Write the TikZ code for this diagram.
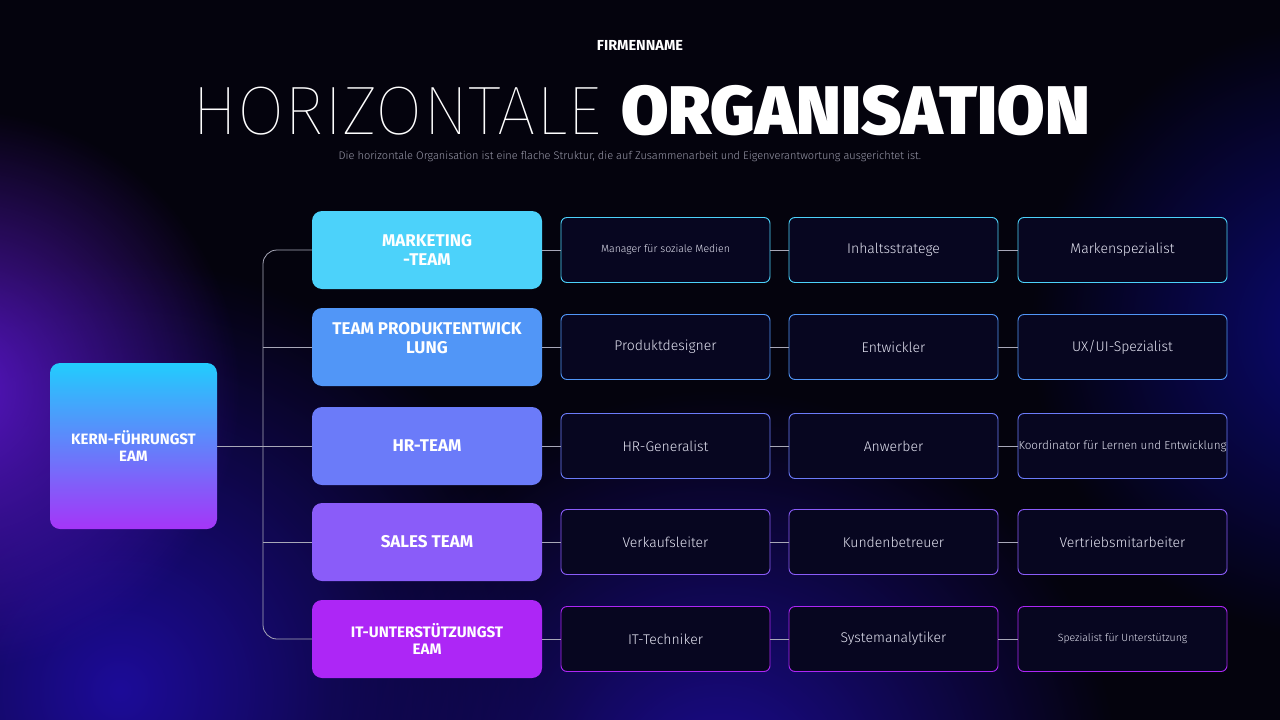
\documentclass[tikz,border=0pt]{standalone}
\usepackage{fontspec}
\setmainfont{Fira Sans}
\newfontfamily\lightf{Fira Sans Light}
\newfontfamily\thinf{Fira Sans Thin}
\newfontfamily\boldf{Fira Sans SemiBold}
\newfontfamily\bbf{Fira Sans Bold}
\newfontfamily\heavyf{Fira Sans Black}
\usetikzlibrary{fadings}
\tikzfading[name=glow, inner color=transparent!0, outer color=transparent!100]
\definecolor{bg}{HTML}{04030D}
\definecolor{gpurple}{HTML}{5A16C8}
\definecolor{gblue}{HTML}{1E0CA0}
\definecolor{gblue2}{HTML}{0C0A86}
\definecolor{tc1}{HTML}{4CD2FA}
\definecolor{tc2}{HTML}{5196F7}
\definecolor{tc3}{HTML}{6B7BF9}
\definecolor{tc4}{HTML}{8A5CF9}
\definecolor{tc5}{HTML}{AD26F6}
\definecolor{kt}{HTML}{22CCFD}
\definecolor{km}{HTML}{6A7DF8}
\definecolor{kb}{HTML}{A535F8}
\definecolor{rolefill}{HTML}{070620}
\definecolor{rolefg}{HTML}{E4E4F2}
\definecolor{conncol}{HTML}{A8A8B8}
\definecolor{subcol}{HTML}{9A9AAA}
\tikzset{
  teambox/.style={rounded corners=10pt, minimum width=230pt, minimum height=78pt,
    inner sep=0pt, align=center, text=white,
    font=\bbf\fontsize{17}{18.5}\selectfont},
  rolebox/.style={rounded corners=6pt, minimum width=209pt, minimum height=65pt,
    inner sep=0pt, align=center, fill=rolefill, line width=0.9pt, text=rolefg,
    font=\lightf\fontsize{14}{17}\selectfont},
  smallrole/.style={font=\lightf\fontsize{10.5}{13}\selectfont},
  conn/.style={draw=conncol, line width=0.8pt},
}
\begin{document}
\begin{tikzpicture}[x=1pt,y=-1pt]
\useasboundingbox (0,0) rectangle (1280,720);
\clip (0,0) rectangle (1280,720);
\fill[bg] (0,0) rectangle (1280,720);
% background glows
\fill[gblue, path fading=glow, opacity=0.95] (120,690) circle (430);
\fill[gpurple, path fading=glow, opacity=0.95] (-40,390) circle (280);
\fill[gblue, path fading=glow, opacity=0.9] (720,790) circle (400);
\fill[gblue2, path fading=glow, opacity=0.85] (1340,330) circle (310);

% titles
\node[text=white, font=\bbf\fontsize{14.5}{16}\selectfont] (firm) at (640,45) {FIRMENNAME};
\node[text=white, inner sep=0pt] (title) at (641,111)
  {\fontsize{68.7}{69}\selectfont\thinf HORIZONTALE \heavyf ORGANISATION};
\node[text=subcol, inner sep=0pt, font=\lightf\fontsize{11}{13}\selectfont] (sub) at (630,156)
  {Die horizontale Organisation ist eine flache Struktur, die auf Zusammenarbeit und Eigenverantwortung ausgerichtet ist.};

% core node
\node[rounded corners=10pt, minimum width=167pt, minimum height=166pt, inner sep=0pt,
  top color=kt, middle color=km, bottom color=kb, align=center, text=white,
  font=\bbf\fontsize{15}{17}\selectfont] (k) at (133.5,446) {KERN-FÜHRUNGST\\EAM};

% team nodes
\node[teambox, fill=tc1] (t1) at (427,250) {MARKETING\\-TEAM};
\node[teambox, fill=tc2] (t2) at (427,347) {TEAM PRODUKTENTWICK\\LUNG\\[0pt]\mbox{}};
\node[teambox, fill=tc3] (t3) at (427,446) {HR-TEAM};
\node[teambox, fill=tc4] (t4) at (427,542) {SALES TEAM};
\node[teambox, fill=tc5, font=\bbf\fontsize{15.2}{16.5}\selectfont] (t5) at (427,639) {IT-UNTERSTÜTZUNGST\\EAM};

% role nodes
\node[rolebox, draw=tc1, smallrole] (r11) at (665.5,250) {Manager für soziale Medien};
\node[rolebox, draw=tc1] (r12) at (893.5,250) {Inhaltsstratege};
\node[rolebox, draw=tc1] (r13) at (1122.5,250) {Markenspezialist};

\node[rolebox, draw=tc2] (r21) at (665.5,347) {Produktdesigner};
\node[rolebox, draw=tc2] (r22) at (893.5,347) {Entwickler};
\node[rolebox, draw=tc2] (r23) at (1122.5,347) {UX/UI-Spezialist};

\node[rolebox, draw=tc3] (r31) at (665.5,446) {HR-Generalist};
\node[rolebox, draw=tc3] (r32) at (893.5,446) {Anwerber};
\node[rolebox, draw=tc3, font=\lightf\fontsize{11.7}{14}\selectfont] (r33) at (1122.5,446) {Koordinator für Lernen und Entwicklung};

\node[rolebox, draw=tc4] (r41) at (665.5,542) {Verkaufsleiter};
\node[rolebox, draw=tc4] (r42) at (893.5,542) {Kundenbetreuer};
\node[rolebox, draw=tc4] (r43) at (1122.5,542) {Vertriebsmitarbeiter};

\node[rolebox, draw=tc5] (r51) at (665.5,639) {IT-Techniker};
\node[rolebox, draw=tc5] (r52) at (893.5,639) {Systemanalytiker};
\node[rolebox, draw=tc5, smallrole] (r53) at (1122.5,639) {Spezialist für Unterstützung};

% connectors
\coordinate (jb) at (263,639);
\draw[conn, rounded corners=14pt] (t1.west) -| (jb) -- (t5.west);
\draw[conn] (k.east) -- (t3.west);
\draw[conn] (t2.west) -- (t2.west -| jb);
\draw[conn] (t4.west) -- (t4.west -| jb);
\foreach \i in {1,...,5}{
  \draw[conn] (t\i.east) -- (r\i1.west);
  \draw[conn] (r\i1.east) -- (r\i2.west);
  \draw[conn] (r\i2.east) -- (r\i3.west);
}
\end{tikzpicture}
\end{document}
